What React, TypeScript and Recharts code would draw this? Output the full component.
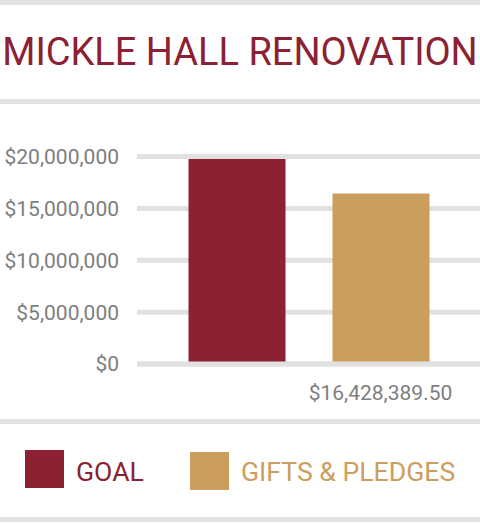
import React from "react";
import {
  BarChart,
  Bar,
  Cell,
  XAxis,
  YAxis,
  CartesianGrid,
  ReferenceLine,
} from "recharts";

const categories = ["GOAL", "GIFTS & PLEDGES"];
const amounts = [19750000, 16428389.5];
const bottomLabels = ["", "$16,428,389.50"];
const yTicks = [0, 5000000, 10000000, 15000000, 20000000];
const colors = ["#8B2132", "#CC9E5E"];

const RULE = "#E1E1E1";
const GRAY_TEXT = "#7E7E7E";
const FONT = "Roboto, 'Noto Sans', sans-serif";

function money(v: number): string {
  return "$" + v.toLocaleString("en-US");
}

const data = categories.map((name, i) => ({
  name,
  amount: amounts[i],
  label: bottomLabels[i],
}));

function Rule({ top }: { top: number }) {
  return (
    <div
      style={{
        position: "absolute",
        left: 0,
        top,
        width: 480,
        height: 5,
        background: RULE,
      }}
    />
  );
}

export default function App() {
  return (
    <div
      style={{
        position: "absolute",
        left: 0,
        top: 0,
        width: 480,
        height: 523,
        background: "#fff",
        fontFamily: FONT,
        overflow: "hidden",
      }}
    >
      <Rule top={0} />
      <div
        style={{
          position: "absolute",
          left: 0,
          top: 33,
          width: 480,
          textAlign: "center",
          fontSize: 38,
          lineHeight: "38px",
          color: colors[0],
          whiteSpace: "nowrap",
        }}
      >
        MICKLE HALL RENOVATION
      </div>
      <Rule top={99} />

      <div style={{ position: "absolute", left: 0, top: 0 }}>
        <BarChart
          width={480}
          height={523}
          data={data}
          margin={{ top: 156.5, right: 0, bottom: 129, left: 0 }}
        >
          <CartesianGrid
            vertical={false}
            stroke={RULE}
            strokeWidth={5}
          />
          <XAxis
            dataKey="label"
            axisLine={false}
            tickLine={false}
            tickSize={0}
            tickMargin={21}
            padding={{ left: 27.5, right: 27.5 }}
            interval={0}
            height={30}
            tick={{ fontSize: 21, fill: GRAY_TEXT, fontFamily: FONT }}
          />
          <YAxis
            width={137}
            domain={[0, 20000000]}
            ticks={yTicks}
            axisLine={false}
            tickLine={false}
            tickSize={0}
            tickMargin={18}
            tickFormatter={money}
            tick={{ fontSize: 21, fill: GRAY_TEXT, fontFamily: FONT }}
          />
          <Bar dataKey="amount" barSize={97} isAnimationActive={false}>
            {data.map((d, i) => (
              <Cell key={d.name} fill={colors[i]} />
            ))}
          </Bar>
          <ReferenceLine y={0} stroke={RULE} strokeWidth={5} />
        </BarChart>
      </div>

      <Rule top={419} />
      {categories.map((name, i) => (
        <div
          key={name}
          style={{
            position: "absolute",
            left: i === 0 ? 25 : 190,
            top: i === 0 ? 450 : 452,
            display: "flex",
            alignItems: "flex-start",
          }}
        >
          <div style={{ width: 39, height: 38, background: colors[i] }} />
          <div
            style={{
              marginLeft: 12,
              marginTop: i === 0 ? 8.5 : 6.5,
              fontSize: 26.6,
              lineHeight: "26.6px",
              color: colors[i],
              whiteSpace: "nowrap",
            }}
          >
            {name}
          </div>
        </div>
      ))}
      <Rule top={517} />
    </div>
  );
}
